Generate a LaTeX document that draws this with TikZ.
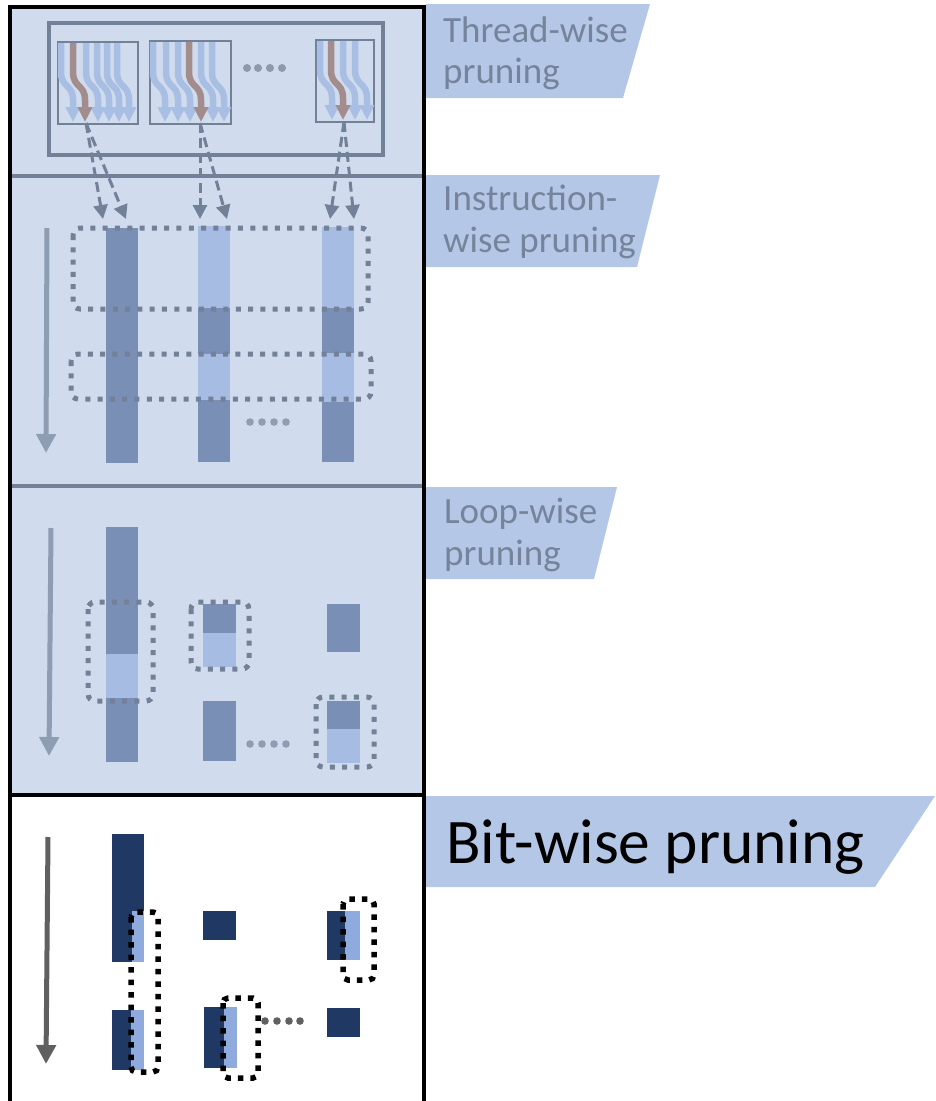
\documentclass[tikz,border=0pt]{standalone}
\usepackage{fontspec}
\setmainfont{Carlito}
\usetikzlibrary{arrows.meta}
\definecolor{secfill}{HTML}{D0DCEE}
\definecolor{tagfill}{HTML}{B4C7E7}
\definecolor{tagtxt}{HTML}{75849A}
\definecolor{linegray}{HTML}{728098}
\definecolor{bardark}{HTML}{7A8FB5}
\definecolor{barlight}{HTML}{A7BCE3}
\definecolor{navy}{HTML}{1F3864}
\definecolor{bitlight}{HTML}{8FAADC}
\definecolor{thrlight}{HTML}{A9BEE3}
\definecolor{thrbrown}{HTML}{A38C8C}
\definecolor{arrgray}{HTML}{8F9DB2}
\definecolor{arrdark}{HTML}{606060}
\definecolor{dotgray}{HTML}{8E99AA}
\begin{document}
\begin{tikzpicture}[x=1pt,y=-1pt,
  tagtext/.style={font=\fontsize{37}{42}\selectfont, text=tagtxt, inner sep=0pt, anchor=base west},
  bigtext/.style={font=\fontsize{63.5}{70}\selectfont, text=black, inner sep=0pt, anchor=base west},
  sepline/.style={draw=linegray, line width=3.5pt},
  frameline/.style={draw=black, line width=4pt},
  thrbox/.style={draw=linegray, line width=2.5pt},
  thrline/.style={line width=6.5pt, -{Triangle[width=14pt,length=15pt]}},
  dasharrow/.style={draw=linegray, line width=3pt, dash pattern=on 10pt off 5pt, -{Triangle[width=14pt,length=14pt]}},
  dotbox/.style={draw=linegray, line width=5pt, dash pattern=on 5pt off 7.3pt, rounded corners=7pt},
  bitbox/.style={draw=black, line width=5.5pt, dash pattern=on 5.5pt off 7pt, rounded corners=5pt},
  flowarrow/.style={line width=5pt, -{Triangle[width=19pt,length=19pt]}},
]
\useasboundingbox (0,0) rectangle (935,1101);
% section background
\fill[secfill] (10,7) rectangle (424,795);
% tags
\fill[tagfill] (426,4) -- (650,4) -- (623,98) -- (426,98) -- cycle;
\fill[tagfill] (426,175) -- (660,175) -- (637,267) -- (426,267) -- cycle;
\fill[tagfill] (426,487) -- (617,487) -- (594,579) -- (426,579) -- cycle;
\fill[tagfill] (426,796) -- (935,796) -- (875,887) -- (426,887) -- cycle;
\node[tagtext] (t1a) at (443,42) {Thread-wise};
\node[tagtext] (t1b) at (443,83) {pruning};
\node[tagtext] (t2a) at (443,210) {Instruction-};
\node[tagtext] (t2b) at (443,252) {wise pruning};
\node[tagtext] (t3a) at (444,523) {Loop-wise};
\node[tagtext] (t3b) at (444,565) {pruning};
\node[bigtext] (t4) at (446,863) {Bit-wise pruning};
% separators
\draw[sepline] (12,176) -- (422,176);
\draw[sepline] (12,486) -- (422,486);
% ---------- thread-wise section
\draw[draw=linegray, line width=4pt] (49,23) rectangle (383,155);
\draw[thrbox] (58,42) rectangle (138,124);
\draw[thrbox] (150,41) rectangle (231,124);
\draw[thrbox] (316,40) rectangle (374,122);
\foreach \x in {61,86,97,107,117}
  \draw[thrline, thrlight] (\x,43) -- (\x,72) .. controls (\x,88) and (\x+12,84) .. (\x+12,100) -- (\x+12,122);
\draw[thrline, thrbrown] (73,43) -- (73,72) .. controls (73,88) and (85,84) .. (85,100) -- (85,122);
\foreach \x in {153,166,178,201,212}
  \draw[thrline, thrlight] (\x,42) -- (\x,72) .. controls (\x,88) and (\x+12,84) .. (\x+12,100) -- (\x+12,122);
\draw[thrline, thrbrown] (189,42) -- (189,72) .. controls (189,88) and (201,84) .. (201,100) -- (201,122);
\foreach \x in {320,343,355}
  \draw[thrline, thrlight] (\x,41) -- (\x,70) .. controls (\x,86) and (\x+12,82) .. (\x+12,98) -- (\x+12,120);
\draw[thrline, thrbrown] (331,41) -- (331,70) .. controls (331,86) and (343,82) .. (343,98) -- (343,120);
\foreach \x/\n in {247/1,258/2,270/3,282/4}
  \fill[dotgray] (\x,68) circle (4pt);
% dashed connectors
\coordinate (s1) at (86,123);
\coordinate (s2) at (200,123);
\coordinate (s3) at (344,122);
\coordinate (e1a) at (103,219);
\coordinate (e1b) at (126,219);
\coordinate (e2a) at (200,219);
\coordinate (e2b) at (227,219);
\coordinate (e3a) at (330,219);
\coordinate (e3b) at (354,219);
\draw[dasharrow] (s1) -- (e1a);
\draw[dasharrow] (s1) -- (e1b);
\draw[dasharrow] (s2) -- (e2a);
\draw[dasharrow] (s2) -- (e2b);
\draw[dasharrow] (s3) -- (e3a);
\draw[dasharrow] (s3) -- (e3b);
% ---------- instruction-wise section
\draw[flowarrow, arrgray] (47,228) -- (46,453);
\fill[bardark] (106,228) rectangle (138,463);
\fill[barlight] (198,226) rectangle (230,308);
\fill[bardark] (198,308) rectangle (230,354);
\fill[barlight] (198,354) rectangle (230,400);
\fill[bardark] (198,400) rectangle (230,462);
\fill[barlight] (322,227) rectangle (354,308);
\fill[bardark] (322,308) rectangle (354,353);
\fill[barlight] (322,353) rectangle (354,402);
\fill[bardark] (322,402) rectangle (354,462);
\draw[dotbox] (73,228) rectangle (368,309);
\draw[dotbox] (71,354) rectangle (371,399);
\foreach \x in {250,262,274,286}
  \fill[arrgray] (\x,422) circle (3.8pt);
% ---------- loop-wise section
\draw[flowarrow, arrgray] (51,528) -- (49,756);
\fill[bardark] (106,527) rectangle (138,654);
\fill[barlight] (106,654) rectangle (138,698);
\fill[bardark] (106,698) rectangle (138,762);
\draw[dotbox] (88,602) rectangle (153,701);
\fill[bardark] (203,604) rectangle (236,633);
\fill[barlight] (203,633) rectangle (236,667);
\draw[dotbox] (191,602) rectangle (249,669);
\fill[bardark] (327,604) rectangle (360,652);
\fill[bardark] (203,701) rectangle (236,761);
\fill[bardark] (327,701) rectangle (360,729);
\fill[barlight] (327,729) rectangle (360,763);
\draw[dotbox] (316,697) rectangle (374,767);
\foreach \x in {250,262,274,286}
  \fill[arrgray] (\x,744) circle (3.8pt);
% ---------- bit-wise section
\draw[flowarrow, arrdark] (48,837) -- (46,1064);
\fill[navy] (112,834) rectangle (144,962);
\fill[bitlight] (132,911) rectangle (144,962);
\fill[navy] (112,1010) rectangle (144,1070);
\fill[bitlight] (131,1010) rectangle (144,1070);
\draw[bitbox] (131,912) rectangle (158,1072);
\fill[navy] (203,911) rectangle (236,940);
\fill[navy] (327,911) rectangle (360,960);
\fill[bitlight] (345,911) rectangle (360,960);
\draw[bitbox] (343,899) rectangle (374,980);
\fill[navy] (204,1007) rectangle (237,1068);
\fill[bitlight] (224,1007) rectangle (237,1068);
\draw[bitbox] (223,998) rectangle (258,1078);
\fill[navy] (327,1008) rectangle (360,1037);
\foreach \x in {265,277,289,300}
  \fill[arrdark] (\x,1021) circle (3.8pt);
% frame
\draw[frameline] (10,1101) -- (10,7) -- (424,7) -- (424,1101);
\draw[frameline] (10,795) -- (424,795);
\end{tikzpicture}
\end{document}
